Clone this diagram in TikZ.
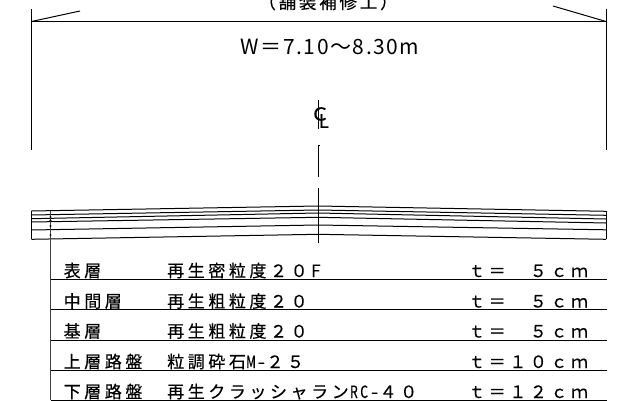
\documentclass[tikz,border=0pt]{standalone}
\usepackage{fontspec}
\newfontfamily\jpf[FakeBold=0.3]{Noto Sans CJK JP}
\newfontfamily\jpr[LetterSpace=21,FakeBold=0.3]{Noto Sans CJK JP}
\newfontfamily\jpw[LetterSpace=7.5]{Noto Sans CJK JP}
\newfontfamily\jpt[LetterSpace=16,FakeBold=0.3]{Noto Sans CJK JP}
\newfontfamily\narr[FakeStretch=0.72,FakeBold=0.3]{Noto Sans CJK JP}
\newcommand{\hw}[1]{\makebox[10.3pt][c]{\narr #1}}
\tikzset{
  ln/.style={line width=1pt,black},
  rowlab/.style={anchor=base west,inner sep=0pt,font=\jpr\fontsize{17}{17}\selectfont},
  toptxt/.style={inner sep=0pt,font=\jpw\fontsize{21}{21}\selectfont}
}
\begin{document}
\begin{tikzpicture}[x=1pt,y=-1pt]
\useasboundingbox (0,0) rectangle (624,401);
\clip (0,0) rectangle (624,401);
% top dimension
\coordinate (dl) at (31.5,21.5);
\coordinate (dr) at (606,21.5);
\draw[ln] (31.5,9) coordinate (a1) -- (31.5,150) coordinate (a2);
\draw[ln] (606,9) coordinate (b1) -- (606,150) coordinate (b2);
\draw[ln] (dl) -- (dr);
\coordinate (tl) at (80,11);
\coordinate (tr) at (553,6);
\draw[ln] (dl) -- (tl);
\draw[ln] (dr) -- (tr);
\node[inner sep=0pt,font=\jpt\fontsize{17.5}{17.5}\selectfont] (title) at (328,2) {（舗装補修工）};
\node[toptxt] (w) at (330,46.5) {W＝7.10～8.30m};
% centreline mark
\node[inner sep=0pt,font=\jpf\fontsize{18}{18}\selectfont] (cc) at (320,114) {\scalebox{1.2}[1]{C}};
\node[inner sep=0pt,font=\jpf\fontsize{19}{19}\selectfont] (cl) at (323.8,121) {L};
\coordinate (m1) at (318.7,100);
\coordinate (m2) at (318.7,129);
\draw[ln] (m1) -- (m2);
\coordinate (c1) at (318.5,146);
\coordinate (c2) at (318.5,177);
\coordinate (c3) at (318.5,188);
\coordinate (c4) at (318.5,243);
\draw[ln] (320,146) -- (c1) -- (c2);
\draw[ln] (c3) -- (c4);
% pavement layers
\draw[ln] (31.5,211) -- (318,206) -- (606,211.3);
\draw[ln] (31.5,215) -- (318,210) -- (606,215.3);
\draw[ln] (31.5,218.7) -- (318,213) -- (606,219);
\draw[ln] (31.5,222) -- (318,217.3) -- (606,223);
\draw[ln] (31.5,230) -- (318,225) -- (606,229.8);
\draw[ln] (31.5,239.3) -- (318,234.3) -- (606,239.3);
\draw[ln] (31.5,211) -- (31.5,239.3);
\draw[ln] (606,211.3) -- (606,239.3);
% leader
\coordinate (v1) at (50.5,211);
\coordinate (v2) at (50.5,400);
\draw[line width=1pt,black!75] (v1) -- (v2);
\foreach \y in {217,220.5,226,235}{\fill (50.5,\y) circle (1.1pt);}
% rows
\foreach \y in {279.5,309.5,340,370,400}{\draw[ln] (50.5,\y) -- (607,\y);}
\node[rowlab] (r1a) at (63.5,277) {表層};
\node[rowlab] (r1b) at (167,277) {再生密粒度２０F};
\node[rowlab] (r1c) at (468,277) {ｔ＝　５ｃｍ};
\node[rowlab] (r2a) at (63.5,307.5) {中間層};
\node[rowlab] (r2b) at (167,307.5) {再生粗粒度２０};
\node[rowlab] (r2c) at (468,307.5) {ｔ＝　５ｃｍ};
\node[rowlab] (r3a) at (63.5,337.5) {基層};
\node[rowlab] (r3b) at (167,337.5) {再生粗粒度２０};
\node[rowlab] (r3c) at (468,337.5) {ｔ＝　５ｃｍ};
\node[rowlab] (r4a) at (63.5,368) {上層路盤};
\node[rowlab] (r4b) at (167,368) {粒調砕石\hw{M}\hw{–}２５};
\node[rowlab] (r4c) at (468,368) {ｔ＝１０ｃｍ};
\node[rowlab] (r5a) at (63.5,398) {下層路盤};
\node[rowlab] (r5b) at (167,398) {再生クラッシャラン\hw{R}\hw{C}\hw{–}４０};
\node[rowlab] (r5c) at (468,398) {ｔ＝１２ｃｍ};
\end{tikzpicture}
\end{document}
